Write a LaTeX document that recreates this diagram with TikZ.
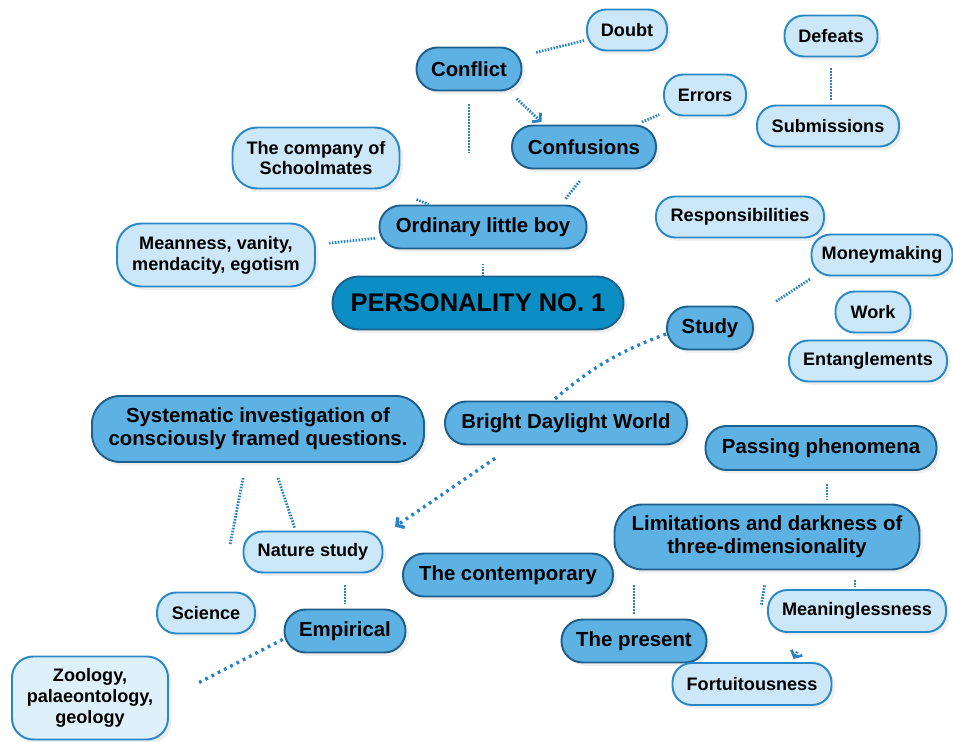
\documentclass[tikz,border=0pt]{standalone}
\usepackage{fontspec}
\setmainfont{Liberation Sans}
\usetikzlibrary{arrows.meta,shadows}
\definecolor{darkfill}{HTML}{5DB2E3}
\definecolor{darkline}{HTML}{1E5F8C}
\definecolor{mainfill}{HTML}{0A8EC4}
\definecolor{lightfill}{HTML}{CCE8F8}
\definecolor{lightline}{HTML}{2888C8}
\definecolor{palefill}{HTML}{DEF0FA}
\definecolor{linkblue}{HTML}{2882C3}
\begin{document}
\begin{tikzpicture}[x=0.02cm, y=0.02cm, line join=round,
	box/.style={draw, line width=1.1pt, align=center, inner sep=0pt,
		drop shadow={shadow xshift=2pt, shadow yshift=-2pt, opacity=0.13}},
	dark/.style={box, fill=darkfill, draw=darkline, rounded corners=12pt,
		minimum height=43*0.02cm, font=\fontsize{11.6}{13}\selectfont\bfseries},
	light/.style={box, fill=lightfill, draw=lightline, rounded corners=11pt,
		minimum height=41*0.02cm, font=\fontsize{10.3}{11.9}\selectfont\bfseries},
	boxw/.style={minimum width=#1*0.02cm},
	boxh/.style={minimum height=#1*0.02cm},
	link/.style={draw=linkblue, line width=1.6pt, dash pattern=on 0.9pt off 0.8pt},
	wide/.style={dash pattern=on 1.6pt off 2.4pt, line width=1.9pt},
	tip/.style={-{Straight Barb[length=3pt,width=7pt]}}]
	\useasboundingbox (0,0) rectangle (953,-742);
	\node[dark, boxw=105] (conflict) at (469,-69) {Conflict};
	\node[dark, boxw=144] (confusions) at (584,-147) {Confusions};
	\node[dark, boxw=207] (ordinary) at (483,-227) {Ordinary little boy};
	\node[box, fill=mainfill, draw=darkline, rounded corners=15pt, boxw=291, boxh=53,
		font=\fontsize{14.5}{16}\selectfont\bfseries] (personality) at (478,-303) {PERSONALITY NO. 1};
	\node[dark, boxw=86] (study) at (710,-328) {Study};
	\node[dark, boxw=242] (bright) at (566,-423) {Bright Daylight World};
	\node[dark, boxw=332, boxh=66, rounded corners=16pt] (systematic) at (258,-429)
		{Systematic investigation of\\consciously framed questions.};
	\node[dark, boxw=231, boxh=44] (passing) at (821,-448) {Passing phenomena};
	\node[dark, boxw=305, boxh=65, rounded corners=16pt] (limitations) at (767,-537)
		{Limitations and darkness of\\three-dimensionality};
	\node[dark, boxw=210] (contemporary) at (508,-575) {The contemporary};
	\node[dark, boxw=145] (present) at (634,-641) {The present};
	\node[dark, boxw=121] (empirical) at (345,-631) {Empirical};

	\node[light, boxw=80] (doubt) at (627,-30) {Doubt};
	\node[light, boxw=93] (defeats) at (831,-36) {Defeats};
	\node[light, boxw=82] (errors) at (705,-95) {Errors};
	\node[light, boxw=142] (submissions) at (828,-126) {Submissions};
	\node[light, boxw=167, boxh=61, rounded corners=14pt] (schoolmates) at (316,-158)
		{The company of\\Schoolmates};
	\node[light, boxw=198, boxh=63, rounded corners=14pt] (meanness) at (216,-255)
		{Meanness, vanity,\\mendacity, egotism};
	\node[light, boxw=168] (responsibilities) at (740,-217) {Responsibilities};
	\node[light, boxw=141] (moneymaking) at (882,-255) {Moneymaking};
	\node[light, boxw=75] (work) at (873,-312) {Work};
	\node[light, boxw=158] (entanglements) at (868,-361) {Entanglements};
	\node[light, boxw=139] (nature) at (313,-552) {Nature study};
	\node[light, boxw=98] (science) at (206,-613) {Science};
	\node[light, boxw=178, boxh=42] (meaninglessness) at (857,-611) {Meaninglessness};
	\node[light, boxw=159, boxh=42] (fortuitousness) at (752,-684) {Fortuitousness};
	\node[light, fill=palefill, boxw=156, boxh=83, rounded corners=12pt] (zoology) at (90,-698)
		{Zoology,\\palaeontology,\\geology};

	\draw[link, shorten <=8pt, shorten >=1pt] (conflict) -- (doubt);
	\draw[link, tip, shorten <=6pt, shorten >=2pt] ([shift={(40,0)}]conflict.south) -- ([shift={(-40,0)}]confusions.north);
	\draw[link, shorten <=7.4pt, shorten >=29.5pt] (conflict.south) -- (conflict.south |- ordinary.north);
	\draw[link, shorten <=3.5pt, shorten >=2.3pt] (confusions) -- (errors);
	\draw[link, shorten <=8.5pt, shorten >=3.5pt] ([shift={(5,0)}]confusions.south) -- ([shift={(78,0)}]ordinary.north);
	\draw[link, shorten <=6.2pt, shorten >=2.8pt] (defeats.south) -- (defeats.south |- submissions.north);
	\draw[link, shorten <=15pt] (schoolmates) -- (ordinary);
	\draw[link, shorten <=7.4pt, shorten >=1.2pt] (meanness) -- (ordinary);
	\draw[link, shorten <=8pt] (ordinary.south) -- (ordinary.south |- personality.north);
	\draw[link, shorten <=2.8pt, shorten >=15pt] ([shift={(-68,0)}]moneymaking.south) -- ([shift={(0,12)}]study.east);
	\draw[link, wide] ([shift={(0,-6)}]study.west) to[bend right=10] ([shift={(-13,0)}]bright.north);
	\draw[link, wide, tip, shorten <=13pt, shorten >=8pt] ([shift={(-52,0)}]bright.south) -- ([shift={(0,-4)}]nature.north east);
	\draw[link, shorten <=8.7pt, shorten >=27pt] ([shift={(-12,0)}]systematic.south) -- ([shift={(15,0)}]science.north);
	\draw[link, shorten <=9pt, shorten >=1pt] ([shift={(15,0)}]systematic.south) -- ([shift={(-17.5,0)}]nature.north);
	\draw[link, shorten <=6.8pt, shorten >=2.3pt] (empirical.north |- nature.south) -- (empirical.north);
	\draw[link, wide, shorten <=0.5pt, shorten >=17pt] ([shift={(0,-8)}]empirical.west) -- (zoology.east);
	\draw[link, shorten <=7.4pt, shorten >=2.8pt] ([shift={(6,0)}]passing.south) -- ++(0,-35);
	\draw[link, shorten <=8.5pt, shorten >=2.5pt] (present.north |- limitations.south) -- (present.north);
	\draw[link, shorten <=8.6pt, shorten >=33pt] (limitations.south) -- (fortuitousness.north);
	\draw[link, shorten <=5.7pt, shorten >=1pt] ([shift={(88,0)}]limitations.south) -- ([shift={(-2,0)}]meaninglessness.north);
	\draw[link, tip, shorten <=12pt, shorten >=2pt] ([shift={(-50,0)}]meaninglessness.south) -- ([shift={(40,0)}]fortuitousness.north);
\end{tikzpicture}
\end{document}
